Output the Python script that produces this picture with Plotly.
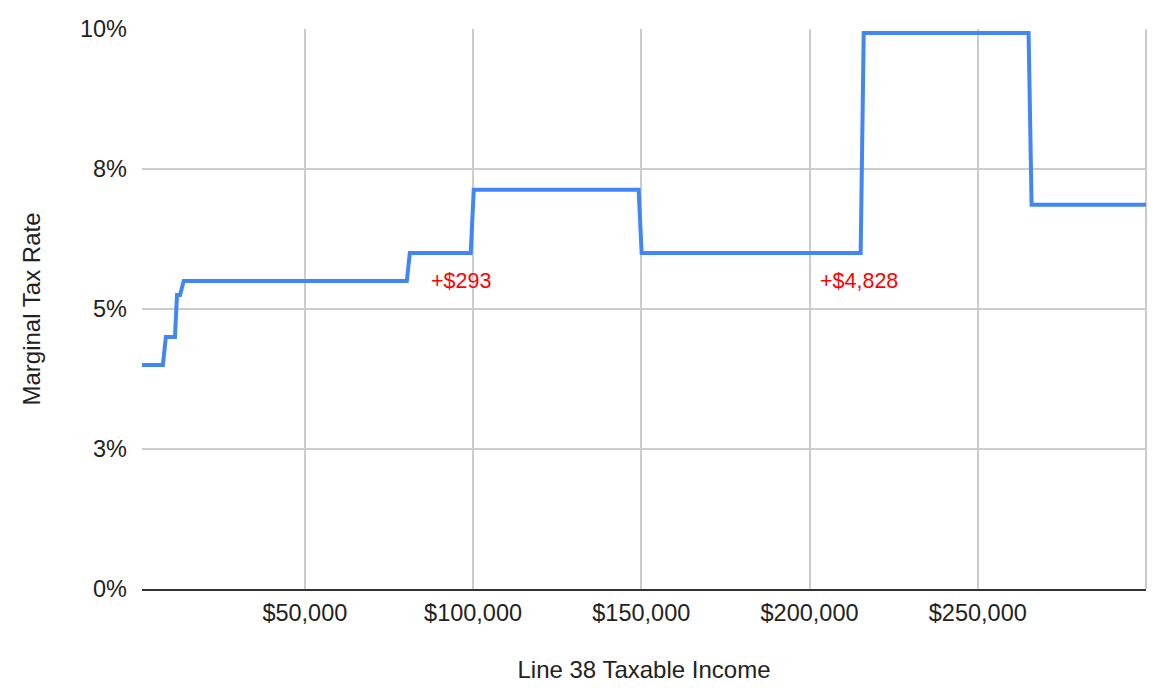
import plotly.graph_objects as go

# Data: step breakpoints (Line 38 taxable income, marginal tax rate %)
income = [1600, 7800, 8700, 11400, 12000, 12900, 14000, 80300, 81200, 99300,
          100200, 149200, 150100, 215200, 216100, 265100, 266000, 300000]
rate = [4.0, 4.0, 4.5, 4.5, 5.25, 5.25, 5.5, 5.5, 6.0, 6.0,
        7.13, 7.13, 6.0, 6.0, 9.93, 9.93, 6.86, 6.86]

x_tick_vals = [50000, 100000, 150000, 200000, 250000]
x_tick_text = ["$50,000", "$100,000", "$150,000", "$200,000", "$250,000"]
y_tick_vals = [0, 2.5, 5, 7.5, 10]
y_tick_text = ["0%", "3%", "5%", "8%", "10%"]

note_text = ["+$293", "+$4,828"]
note_x = [96300, 214600]
note_y = [5.5, 5.5]

FONT = "Liberation Sans, Arial, sans-serif"
TXT = "#222222"

fig = go.Figure()
fig.add_trace(go.Scatter(
    x=income, y=rate, mode="lines",
    line=dict(color="#4285F4", width=4),
    hoverinfo="skip", showlegend=False,
))

for t, xv, yv in zip(note_text, note_x, note_y):
    fig.add_annotation(x=xv, y=yv, text=t, showarrow=False,
                       font=dict(family=FONT, size=21.5, color="#FF0000"),
                       xanchor="center", yanchor="middle")

# right border of the plot area
fig.add_shape(type="line", xref="paper", yref="paper", x0=1, x1=1, y0=0, y1=1,
              line=dict(color="#CCCCCC", width=2), layer="below")

fig.update_layout(
    width=1166, height=688,
    margin=dict(l=134, r=28, t=21, b=107),
    plot_bgcolor="white", paper_bgcolor="white",
    font=dict(family=FONT, size=23.5, color=TXT),
    showlegend=False,
)
fig.update_xaxes(
    range=[1600, 300000],
    tickvals=x_tick_vals, ticktext=x_tick_text,
    showgrid=True, gridcolor="#CCCCCC", gridwidth=2,
    zeroline=False, showline=True, linecolor="#333333", linewidth=2,
    ticks="", ticklen=0, ticklabelstandoff=2,
    automargin="bottom",
    tickfont=dict(family=FONT, size=23.5, color=TXT),
    title=dict(text="Line 38 Taxable Income", standoff=36,
               font=dict(family=FONT, size=24, color=TXT)),
)
fig.update_yaxes(
    range=[0, 10],
    tickvals=y_tick_vals, ticktext=y_tick_text,
    showgrid=True, gridcolor="#CCCCCC", gridwidth=2,
    zeroline=False, showline=False,
    ticks="", ticklen=0, ticklabelstandoff=14,
    automargin="left",
    tickfont=dict(family=FONT, size=23.5, color=TXT),
    title=dict(text="Marginal Tax Rate", standoff=32,
               font=dict(family=FONT, size=24, color=TXT)),
)

fig.write_html("out.html")
